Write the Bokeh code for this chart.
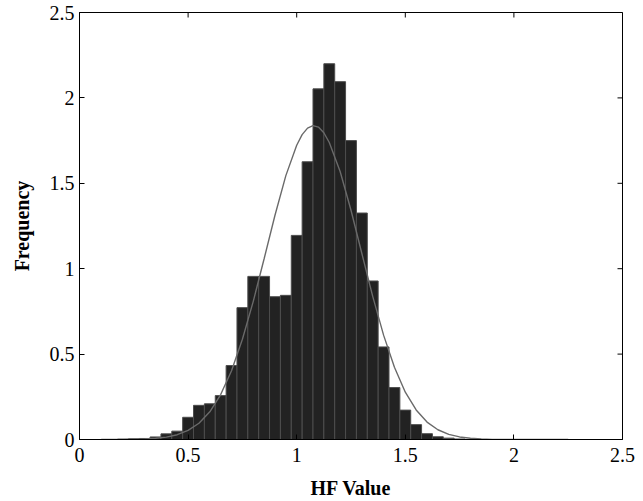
import math
from bokeh.plotting import figure
from bokeh.models import FixedTicker, NumeralTickFormatter, Range1d
from bokeh.embed import file_html
from bokeh.resources import INLINE

# Histogram bin centres and heights
bin_centers = [0.20, 0.25, 0.30, 0.35, 0.40, 0.45, 0.50, 0.55, 0.60, 0.65,
               0.70, 0.75, 0.80, 0.85, 0.90, 0.95, 1.00, 1.05, 1.10, 1.15,
               1.20, 1.25, 1.30, 1.35, 1.40, 1.45, 1.50, 1.55, 1.60, 1.65,
               1.70, 1.75]
bin_heights = [0.002, 0.004, 0.006, 0.015, 0.033, 0.049, 0.130, 0.200, 0.209, 0.257,
               0.433, 0.772, 0.955, 0.955, 0.836, 0.844, 1.195, 1.626, 2.053, 2.200,
               2.095, 1.750, 1.326, 0.928, 0.542, 0.304, 0.172, 0.087, 0.034, 0.016,
               0.008, 0.003]

# Fitted curve, points
curve_x = [0.10, 0.20, 0.30, 0.35, 0.40, 0.45, 0.50, 0.55, 0.60, 0.65,
           0.70, 0.75, 0.80, 0.85, 0.90, 0.95, 1.00, 1.025, 1.05, 1.075, 1.10, 1.125, 1.15,
           1.20, 1.25, 1.30, 1.35, 1.40, 1.45, 1.50, 1.55, 1.60, 1.65,
           1.70, 1.75, 1.80, 1.85, 1.90, 2.00, 2.10, 2.25]
curve_y = [0.000, 0.001, 0.003, 0.007, 0.014, 0.028, 0.053, 0.095, 0.162, 0.263,
           0.403, 0.587, 0.809, 1.058, 1.313, 1.545, 1.723, 1.785, 1.823, 1.838, 1.829, 1.796, 1.739,
           1.569, 1.342, 1.089, 0.838, 0.611, 0.423, 0.277, 0.173, 0.102, 0.057,
           0.030, 0.015, 0.007, 0.003, 0.001, 0.000, 0.000, 0.000]

tick_values = [0, 0.5, 1, 1.5, 2, 2.5]
x_label = "HF Value"
y_label = "Frequency"

FONT = "Liberation Serif"
X_MIN, X_MAX, Y_MIN, Y_MAX = 0, 2.5, 0, 2.5

p = figure(width=640, height=501, output_backend="svg", toolbar_location=None,
           x_range=Range1d(X_MIN, X_MAX), y_range=Range1d(Y_MIN, Y_MAX),
           min_border_left=79, min_border_right=18, min_border_top=12, min_border_bottom=62)
p.grid.visible = False
p.background_fill_color = "white"
p.outline_line_color = "black"
p.outline_line_width = 1

p.vbar(x=bin_centers, width=0.05, top=bin_heights, bottom=0,
       fill_color="#222222", line_color="#4d4d4d", line_width=1)
p.line(curve_x, curve_y, line_color="#6a6a6a", line_width=1.4)

for ax, lab in ((p.xaxis[0], x_label), (p.yaxis[0], y_label)):
    ax.ticker = FixedTicker(ticks=tick_values)
    ax.formatter = NumeralTickFormatter(format="0.[0]")
    ax.minor_tick_line_color = None
    ax.major_tick_in = 5
    ax.major_tick_out = 0
    ax.axis_line_color = "black"
    ax.major_tick_line_color = "black"
    ax.major_label_text_font = FONT
    ax.major_label_text_font_size = "20px"
    ax.major_label_text_color = "black"
    ax.axis_label = lab
    ax.axis_label_text_font = FONT
    ax.axis_label_text_font_size = "20px"
    ax.axis_label_text_font_style = "bold"
    ax.axis_label_text_color = "black"

p.xaxis[0].major_label_standoff = 8
p.xaxis[0].axis_label_standoff = 12
p.yaxis[0].major_label_standoff = 5
p.yaxis[0].axis_label_standoff = 14

# inward tick marks on the top and right edges of the box (half outside is clipped)
p.scatter(x=tick_values, y=[Y_MAX] * len(tick_values), marker="dash", size=10,
          angle=math.pi / 2, line_color="black", line_width=1)
p.scatter(x=[X_MAX] * len(tick_values), y=tick_values, marker="dash", size=10,
          line_color="black", line_width=1)

open("out.html", "w").write(file_html(p, INLINE))
